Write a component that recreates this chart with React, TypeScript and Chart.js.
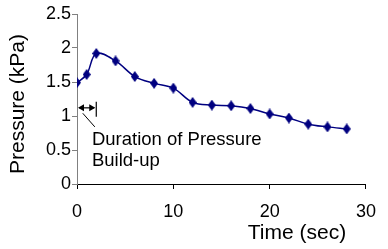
import React, { useEffect, useRef } from "react";
import { Chart, registerables } from "chart.js";

Chart.register(...registerables);

const timeSec = [0, 1, 2, 4, 6, 8, 10, 12, 14, 16, 18, 20, 22, 24, 26, 28];
const pressureKPa = [1.49, 1.61, 1.92, 1.81, 1.58, 1.48, 1.41, 1.2, 1.16, 1.15, 1.11, 1.03, 0.97, 0.88, 0.84, 0.81];
const xTicks = [0, 10, 20, 30];
const yTicks = [0, 0.5, 1, 1.5, 2, 2.5];
const xTitle = "Time (sec)";
const yTitle = "Pressure (kPa)";
const noteLines = ["Duration of Pressure", "Build-up"];
// annotation in data units: arrow from t=0 to t=2 at pressure 1.12
const noteArrow = { x0: 0, x1: 2, y: 1.12 };

const FONT = '"Liberation Sans", Arial, sans-serif';
const NAVY = "#000080";

function makeDiamond(): HTMLCanvasElement {
  const c = document.createElement("canvas");
  c.width = 8;
  c.height = 11;
  const g = c.getContext("2d")!;
  g.fillStyle = NAVY;
  g.beginPath();
  g.moveTo(4, 0);
  g.lineTo(8, 5.5);
  g.lineTo(4, 11);
  g.lineTo(0, 5.5);
  g.closePath();
  g.fill();
  return c;
}

const annotationPlugin = {
  id: "annot",
  afterDraw(chart: any) {
    const ctx = chart.ctx;
    const xs = chart.scales.x;
    const ys = chart.scales.y;
    ctx.save();
    const ax0 = xs.getPixelForValue(noteArrow.x0);
    const ax1 = xs.getPixelForValue(noteArrow.x1);
    const ay = ys.getPixelForValue(noteArrow.y);
    ctx.strokeStyle = "#000";
    ctx.fillStyle = "#000";
    ctx.lineWidth = 1.2;
    ctx.beginPath();
    ctx.moveTo(ax0 + 2, ay);
    ctx.lineTo(ax1 - 2, ay);
    ctx.stroke();
    const head = (x: number, dir: number) => {
      ctx.beginPath();
      ctx.moveTo(x, ay);
      ctx.lineTo(x - dir * 6, ay - 3.5);
      ctx.lineTo(x - dir * 6, ay + 3.5);
      ctx.closePath();
      ctx.fill();
    };
    head(ax0 + 1, -1);
    head(ax1 - 1, 1);
    ctx.beginPath();
    ctx.moveTo(ax1, ay - 6);
    ctx.lineTo(ax1, ay + 9);
    ctx.stroke();
    ctx.lineWidth = 1;
    ctx.beginPath();
    ctx.moveTo(xs.getPixelForValue(0.6), ys.getPixelForValue(1.04));
    ctx.lineTo(xs.getPixelForValue(1.85), ys.getPixelForValue(0.84));
    ctx.stroke();
    ctx.font = `18.5px ${FONT}`;
    ctx.textAlign = "left";
    ctx.textBaseline = "alphabetic";
    const tx = xs.getPixelForValue(1.55);
    const ty = ys.getPixelForValue(0.57);
    noteLines.forEach((l, i) => ctx.fillText(l, tx, ty + i * 21));
    ctx.font = `21px ${FONT}`;
    ctx.textAlign = "center";
    ctx.textBaseline = "middle";
    ctx.fillText(xTitle, 297, 233);
    ctx.translate(18, 104);
    ctx.rotate(-Math.PI / 2);
    ctx.fillText(yTitle, 0, 0);
    ctx.restore();
  },
};

export default function App() {
  const ref = useRef<HTMLCanvasElement>(null);
  useEffect(() => {
    const diamond = makeDiamond();
    const chart = new Chart(ref.current!, {
      type: "line",
      data: {
        datasets: [
          {
            data: timeSec.map((t, i) => ({ x: t, y: pressureKPa[i] })),
            borderColor: NAVY,
            backgroundColor: NAVY,
            borderWidth: 1.5,
            tension: 0.35,
            pointStyle: diamond as any,
            pointRadius: 4,
          },
        ],
      },
      options: {
        responsive: false,
        animation: false,
        layout: { padding: { left: 0, top: 14, right: 17, bottom: 0 } },
        plugins: { legend: { display: false }, tooltip: { enabled: false } },
        scales: {
          x: {
            type: "linear",
            min: 0,
            max: 30,
            afterBuildTicks: (axis: any) => {
              axis.ticks = xTicks.map((v) => ({ value: v }));
            },
            afterFit: (axis: any) => {
              axis.height = 65;
            },
            grid: { drawOnChartArea: false, drawTicks: true, tickLength: 5, color: "#000" },
            border: { color: "#000", width: 1 },
            ticks: {
              color: "#000",
              font: { family: FONT, size: 18 },
              padding: 12,
              maxRotation: 0,
              callback: (v: any) => String(v),
            },
          },
          y: {
            type: "linear",
            min: 0,
            max: 2.5,
            afterBuildTicks: (axis: any) => {
              axis.ticks = yTicks.map((v) => ({ value: v }));
            },
            afterFit: (axis: any) => {
              axis.width = 77;
            },
            grid: { drawOnChartArea: false, drawTicks: true, tickLength: 5, color: "#808080" },
            border: { color: "#808080", width: 1 },
            ticks: {
              color: "#000",
              font: { family: FONT, size: 18 },
              padding: 1,
              callback: (v: any) => String(v),
            },
          },
        },
      },
      plugins: [annotationPlugin],
    });
    return () => chart.destroy();
  }, []);
  return (
    <div style={{ position: "fixed", left: 0, top: 0, width: 388, height: 249, background: "#fff" }}>
      <canvas ref={ref} width={388} height={249} />
    </div>
  );
}
